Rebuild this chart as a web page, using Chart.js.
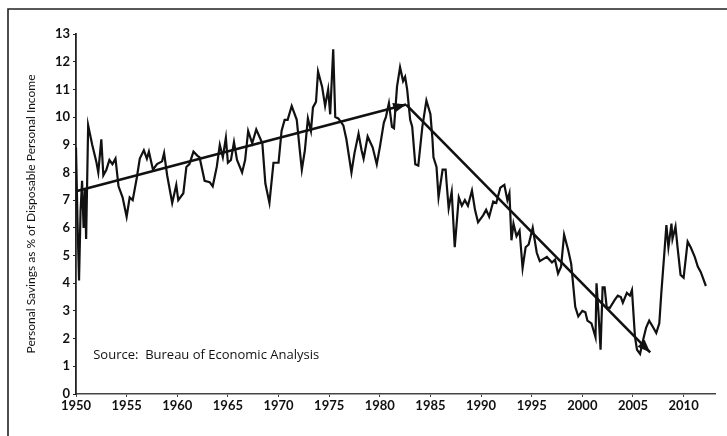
<!DOCTYPE html>
<html>
<head>
<meta charset="utf-8">
<script src="https://cdn.jsdelivr.net/npm/chart.js@4"></script>
<style>
html, body { margin: 0; padding: 0; background: #fff; }
</style>
</head>
<body>
<canvas id="myChart" width="727" height="436"></canvas>
<script>
// personal savings rate (year, % of disposable income)
var years = [
    1950.0, 1950.15, 1950.3, 1950.45, 1950.6, 1950.75, 1950.9, 1951.0, 1951.2, 1951.6,
    1952.0, 1952.2, 1952.5, 1952.7, 1953.0, 1953.3, 1953.6, 1953.9, 1954.2, 1954.6,
    1955.0, 1955.3, 1955.6, 1956.0, 1956.3, 1956.7, 1957.0, 1957.2, 1957.6, 1958.0,
    1958.5, 1958.7, 1959.0, 1959.5, 1959.9, 1960.1, 1960.6, 1960.9, 1961.2, 1961.6,
    1962.0, 1962.2, 1962.7, 1963.2, 1963.5, 1963.9, 1964.2, 1964.5, 1964.8, 1965.0,
    1965.3, 1965.6, 1965.9, 1966.4, 1966.7, 1967.0, 1967.4, 1967.8, 1968.4, 1968.7,
    1969.1, 1969.5, 1970.0, 1970.3, 1970.6, 1970.9, 1971.3, 1971.8, 1972.1, 1972.3,
    1972.6, 1972.9, 1973.2, 1973.4, 1973.7, 1973.9, 1974.3, 1974.6, 1974.9, 1975.1,
    1975.4, 1975.6, 1975.9, 1976.4, 1976.7, 1977.2, 1977.5, 1977.9, 1978.2, 1978.4,
    1978.8, 1979.3, 1979.7, 1980.0, 1980.4, 1980.6, 1980.9, 1981.2, 1981.4, 1981.7,
    1982.0, 1982.3, 1982.5, 1982.7, 1983.0, 1983.2, 1983.5, 1983.8, 1984.2, 1984.6,
    1985.0, 1985.2, 1985.3, 1985.6, 1985.8, 1986.2, 1986.5, 1986.6, 1986.8, 1987.1,
    1987.4, 1987.8, 1988.1, 1988.4, 1988.7, 1989.1, 1989.4, 1989.7, 1990.2, 1990.5,
    1990.8, 1991.2, 1991.5, 1991.9, 1992.3, 1992.6, 1992.8, 1993.0, 1993.2, 1993.5,
    1993.8, 1994.1, 1994.4, 1994.7, 1995.1, 1995.5, 1995.8, 1996.5, 1997.0, 1997.3,
    1997.6, 1997.9, 1998.2, 1998.6, 1998.9, 1999.3, 1999.6, 2000.0, 2000.3, 2000.5,
    2000.9, 2001.1, 2001.3, 2001.4, 2001.6, 2001.8, 2002.0, 2002.2, 2002.4, 2002.7,
    2003.2, 2003.5, 2003.8, 2004.0, 2004.4, 2004.7, 2004.9, 2005.2, 2005.4, 2005.7,
    2006.0, 2006.3, 2006.6, 2007.0, 2007.3, 2007.6, 2007.8, 2008.1, 2008.3, 2008.5,
    2008.8, 2008.9, 2009.2, 2009.4, 2009.7, 2010.0, 2010.4, 2010.7, 2011.1, 2011.4,
    2011.7, 2012.2
];
var savings = [
    8.9, 6.2, 4.1, 6.6, 7.7, 6.0, 7.4, 5.6, 9.7, 9.0,
    8.4, 8.0, 9.2, 7.9, 8.1, 8.45, 8.3, 8.5, 7.5, 7.1,
    6.4, 7.1, 7.0, 7.8, 8.5, 8.8, 8.5, 8.75, 8.1, 8.3,
    8.4, 8.7, 7.9, 6.9, 7.55, 7.0, 7.25, 8.2, 8.3, 8.75,
    8.6, 8.55, 7.7, 7.65, 7.5, 8.2, 9.0, 8.55, 9.25, 8.35,
    8.45, 9.1, 8.45, 8.0, 8.45, 9.5, 9.05, 9.55, 9.05, 7.6,
    6.9, 8.35, 8.35, 9.5, 9.9, 9.9, 10.4, 9.9, 8.8, 8.1,
    8.8, 9.95, 9.5, 10.35, 10.55, 11.65, 11.1, 10.4, 11.0, 10.1,
    12.45, 10.0, 9.95, 9.7, 9.2, 8.0, 8.7, 9.4, 8.8, 8.5,
    9.3, 8.9, 8.3, 8.9, 9.8, 10.0, 10.5, 9.65, 9.6, 11.1,
    11.8, 11.3, 11.45, 11.0, 9.9, 9.65, 8.3, 8.25, 9.65, 10.6,
    10.1, 9.2, 8.55, 8.2, 7.1, 8.1, 8.1, 7.6, 6.7, 7.3,
    5.3, 7.1, 6.8, 7.0, 6.8, 7.35, 6.65, 6.2, 6.45, 6.65,
    6.4, 6.95, 6.9, 7.45, 7.55, 7.0, 7.25, 5.55, 6.15, 5.7,
    5.9, 4.55, 5.3, 5.4, 6.0, 5.1, 4.8, 4.95, 4.75, 4.85,
    4.35, 4.6, 5.75, 5.2, 4.7, 3.15, 2.8, 3.0, 2.95, 2.65,
    2.55, 2.3, 2.05, 4.0, 2.9, 1.6, 3.85, 3.85, 3.15, 3.1,
    3.4, 3.55, 3.5, 3.3, 3.65, 3.55, 3.75, 2.05, 1.6, 1.45,
    1.95, 2.4, 2.65, 2.4, 2.2, 2.55, 3.65, 5.1, 6.1, 5.3,
    6.15, 5.6, 6.05, 5.3, 4.3, 4.2, 5.5, 5.3, 4.95, 4.6,
    4.4, 3.9
];

// the two trend arrows drawn over the series
var upYears = [1950.1, 1982.6];
var upValues = [7.33, 10.45];
var downYears = [1982.6, 2006.7];
var downValues = [10.45, 1.5];

var yTicks = [0, 1, 2, 3, 4, 5, 6, 7, 8, 9, 10, 11, 12, 13];
var xTicks = [1950, 1955, 1960, 1965, 1970, 1975, 1980, 1985, 1990, 1995, 2000, 2005, 2010];

var sourceText = 'Source:  Bureau of Economic Analysis';
var axisTitle = 'Personal Savings as % of Disposable Personal Income';

function points(xs, ys) {
    var out = [];
    for (var i = 0; i < xs.length; i++) {
        out.push({ x: xs[i], y: ys[i] });
    }
    return out;
}

/* frame, source note and arrow heads */
var extras = {
    id: 'extras',
    beforeDraw: function (chart) {
        var c = chart.ctx;
        c.save();
        c.strokeStyle = '#222';
        c.lineWidth = 1.6;
        c.beginPath();
        c.moveTo(8, 436);
        c.lineTo(8, 9);
        c.lineTo(727, 9);
        c.stroke();
        c.restore();
    },
    afterDatasetsDraw: function (chart) {
        var c = chart.ctx;
        c.save();
        c.fillStyle = '#111';
        [1, 2].forEach(function (i) {
            var pts = chart.getDatasetMeta(i).data;
            var a = pts[pts.length - 2], b = pts[pts.length - 1];
            var ang = Math.atan2(b.y - a.y, b.x - a.x);
            var len = 13, half = 5;
            c.beginPath();
            c.moveTo(b.x, b.y);
            c.lineTo(b.x - len * Math.cos(ang) + half * Math.sin(ang), b.y - len * Math.sin(ang) - half * Math.cos(ang));
            c.lineTo(b.x - len * Math.cos(ang) - half * Math.sin(ang), b.y - len * Math.sin(ang) + half * Math.cos(ang));
            c.closePath();
            c.fill();
        });
        var xs = chart.scales.x, ys = chart.scales.y;
        c.font = '13px "Open Sans"';
        c.textBaseline = 'middle';
        c.textAlign = 'left';
        c.fillText(sourceText, xs.getPixelForValue(1951.7), ys.getPixelForValue(1.4));
        c.restore();
    }
};

var ctx = document.getElementById('myChart').getContext('2d');
var myChart = new Chart(ctx, {
    type: 'line',
    data: {
        datasets: [{
            data: points(years, savings),
            borderColor: '#111',
            borderWidth: 2.2,
            pointRadius: 0,
            tension: 0
        }, {
            data: points(upYears, upValues),
            borderColor: '#111',
            borderWidth: 2.6,
            pointRadius: 0
        }, {
            data: points(downYears, downValues),
            borderColor: '#111',
            borderWidth: 2.6,
            pointRadius: 0
        }]
    },
    options: {
        responsive: false,
        animation: false,
        events: [],
        layout: { padding: { top: 34, right: 12, left: 24, bottom: 0 } },
        plugins: {
            legend: { display: false },
            tooltip: { enabled: false }
        },
        scales: {
            x: {
                type: 'linear',
                min: 1950,
                max: 2013.1,
                afterBuildTicks: function (scale) {
                    scale.ticks = xTicks.map(function (v) { return { value: v }; });
                },
                afterFit: function (scale) { scale.height = 42; },
                grid: { drawOnChartArea: false, drawTicks: true, tickLength: 3, color: '#444' },
                border: { color: '#444', width: 1.5 },
                ticks: {
                    color: '#111',
                    padding: 1,
                    maxRotation: 0,
                    callback: function (v) { return String(v); },
                    font: { family: 'Lato', size: 13, weight: 'bold' }
                }
            },
            y: {
                min: 0,
                max: 13,
                afterBuildTicks: function (scale) {
                    scale.ticks = yTicks.map(function (v) { return { value: v }; });
                },
                afterFit: function (scale) { scale.width = 52; },
                grid: { drawOnChartArea: false, drawTicks: true, tickLength: 3, color: '#222' },
                border: { color: '#222', width: 1.8 },
                ticks: {
                    color: '#111',
                    padding: 3,
                    font: { family: 'Lato', size: 13, weight: 'bold' }
                },
                title: {
                    display: true,
                    text: axisTitle,
                    color: '#111',
                    padding: 0,
                    font: { family: 'Lato', size: 12 }
                }
            }
        }
    },
    plugins: [extras]
});
</script>
</body>
</html>
